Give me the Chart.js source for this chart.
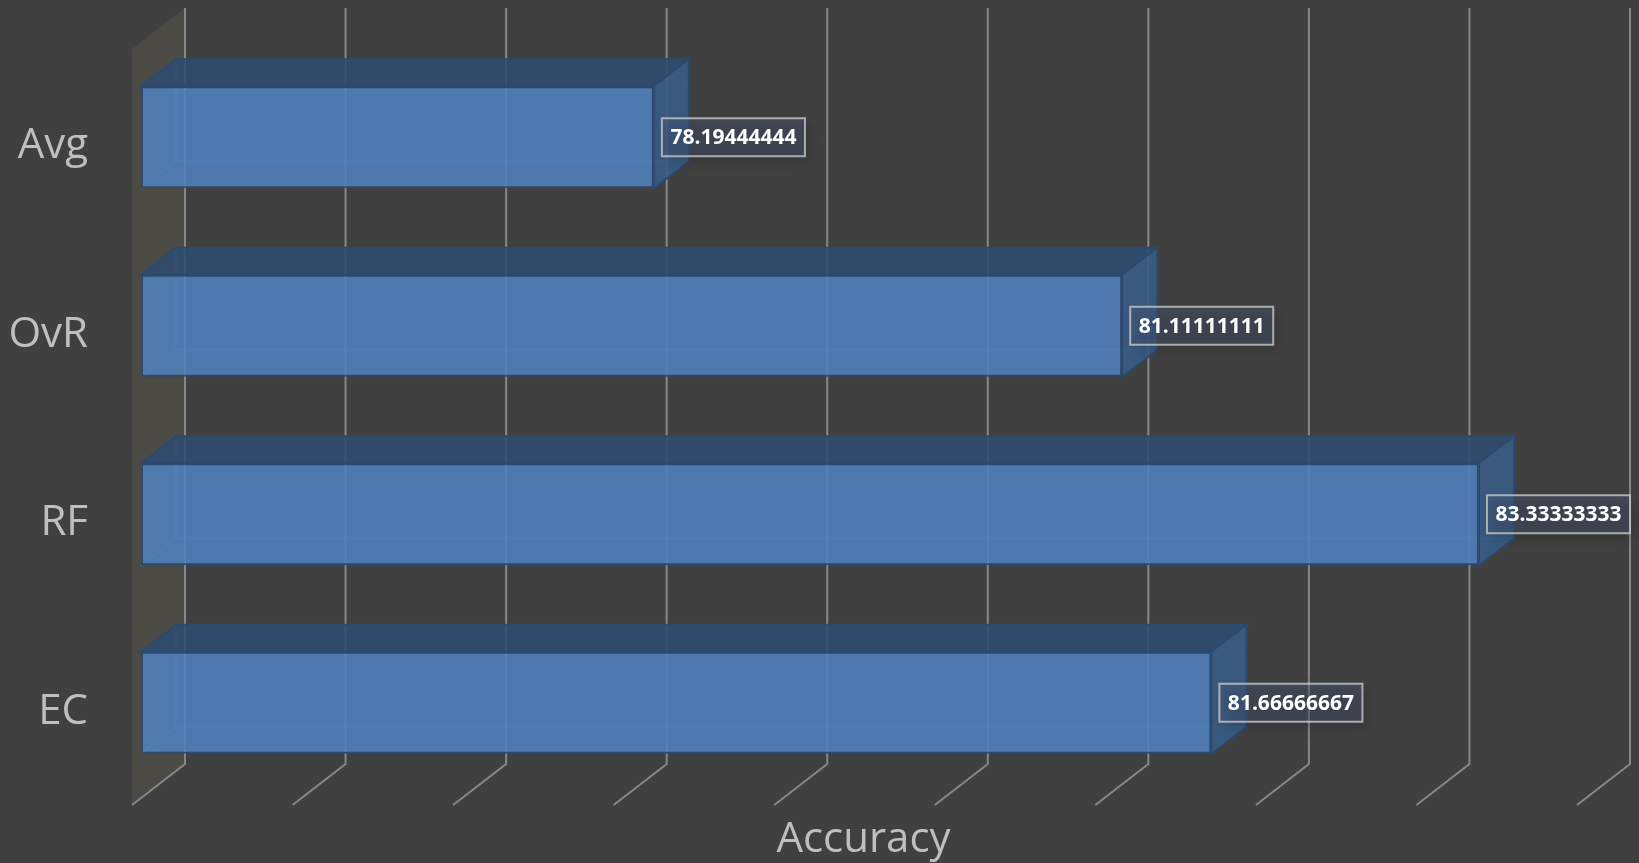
<!DOCTYPE html>
<html>
<head>
<meta charset="utf-8">
<title>Accuracy</title>
<script src="https://cdn.jsdelivr.net/npm/chart.js"></script>
<style>
  html, body { margin: 0; padding: 0; background: #404040; overflow: hidden; }
  #wrap { width: 1639px; height: 863px; }
</style>
</head>
<body>
<div id="wrap"><canvas id="myChart"></canvas></div>
<script>
  // data
  const categories = ['Avg', 'OvR', 'RF', 'EC'];
  const accuracy = [78.19444444, 81.11111111, 83.33333333, 81.66666667];
  const valueLabels = ['78.19444444', '81.11111111', '83.33333333', '81.66666667'];
  const axisTicks = [75, 76, 77, 78, 79, 80, 81, 82, 83, 84];

  // 3d look: depth of the bar, and where front / back planes sit relative to the bar front
  const BAR_DX = 35, BAR_DY = -27;
  const FRONT_DX = -9, FRONT_DY = 7;
  const BACK_DX = 44, BACK_DY = -34;

  function poly(ctx, pts) {
    ctx.beginPath();
    ctx.moveTo(pts[0][0], pts[0][1]);
    for (let i = 1; i < pts.length; i++) ctx.lineTo(pts[i][0], pts[i][1]);
    ctx.closePath();
  }

  const threeD = {
    id: 'threeD',
    beforeDatasetsDraw(chart) {
      const { ctx, chartArea } = chart;
      const xs = chart.scales.x;
      const backBottom = chartArea.bottom - 33;
      const backTop = 8;
      const frontBottom = backBottom - BACK_DY + FRONT_DY;
      ctx.save();

      // side wall
      const x0 = xs.getPixelForValue(axisTicks[0]);
      ctx.fillStyle = '#4c4a44';
      poly(ctx, [
        [x0 + FRONT_DX, frontBottom],
        [x0 + FRONT_DX, backTop - BACK_DY + FRONT_DY],
        [x0 + BACK_DX, backTop],
        [x0 + BACK_DX, backBottom]
      ]);
      ctx.fill();

      // gridlines: back wall verticals + floor diagonals
      ctx.strokeStyle = '#878787';
      ctx.lineWidth = 2;
      axisTicks.forEach(v => {
        const px = xs.getPixelForValue(v);
        ctx.beginPath();
        ctx.moveTo(px + BACK_DX, backTop);
        ctx.lineTo(px + BACK_DX, backBottom);
        ctx.lineTo(px + FRONT_DX, frontBottom);
        ctx.stroke();
      });

      // hidden and side faces of each bar
      const meta = chart.getDatasetMeta(0);
      meta.data.forEach(el => {
        const p = el.getProps(['x', 'y', 'base', 'height'], true);
        const left = p.base, right = p.x;
        const top = p.y - p.height / 2, bot = p.y + p.height / 2;

        // faint back edges
        ctx.strokeStyle = 'rgba(90,140,200,0.6)';
        ctx.lineWidth = 1.5;
        ctx.beginPath();
        ctx.moveTo(left, bot);
        ctx.lineTo(left + BAR_DX, bot + BAR_DY);
        ctx.lineTo(right + BAR_DX, bot + BAR_DY);
        ctx.moveTo(left + BAR_DX, bot + BAR_DY);
        ctx.lineTo(left + BAR_DX, top + BAR_DY);
        ctx.stroke();

        ctx.strokeStyle = '#2c4a70';
        ctx.lineWidth = 2;
        // top face
        ctx.fillStyle = 'rgba(46,76,112,0.88)';
        poly(ctx, [[left, top], [left + BAR_DX, top + BAR_DY], [right + BAR_DX, top + BAR_DY], [right, top]]);
        ctx.fill();
        ctx.stroke();
        // right face
        ctx.fillStyle = 'rgba(58,92,134,0.9)';
        poly(ctx, [[right, top], [right + BAR_DX, top + BAR_DY], [right + BAR_DX, bot + BAR_DY], [right, bot]]);
        ctx.fill();
        ctx.stroke();
      });
      ctx.restore();
    },
    afterDatasetsDraw(chart) {
      const { ctx } = chart;
      const meta = chart.getDatasetMeta(0);
      ctx.save();
      ctx.font = 'bold 21px "Open Sans"';
      meta.data.forEach((el, i) => {
        const p = el.getProps(['x', 'y'], true);
        const text = valueLabels[i];
        const w = ctx.measureText(text).width + 17;
        const h = 38;
        const bx = p.x + 8, by = p.y - h / 2;
        ctx.save();
        ctx.shadowColor = 'rgba(0,0,0,0.45)';
        ctx.shadowBlur = 12;
        ctx.shadowOffsetX = 4;
        ctx.shadowOffsetY = 5;
        ctx.fillStyle = 'rgba(70,90,120,0.38)';
        ctx.fillRect(bx, by, w, h);
        ctx.restore();
        ctx.strokeStyle = 'rgba(200,200,200,0.8)';
        ctx.lineWidth = 2;
        ctx.strokeRect(bx, by, w, h);
        ctx.fillStyle = '#ffffff';
        ctx.textAlign = 'center';
        ctx.textBaseline = 'middle';
        ctx.fillText(text, bx + w / 2, p.y + 1);
      });
      ctx.restore();
    }
  };

  const ctx = document.getElementById('myChart').getContext('2d');
  new Chart(ctx, {
    type: 'bar',
    data: {
      labels: categories,
      datasets: [{
        label: 'Accuracy',
        data: accuracy,
        base: axisTicks[0],
        backgroundColor: 'rgba(79,129,189,0.88)',
        borderColor: '#2c4a70',
        borderWidth: 2,
        borderSkipped: false,
        categoryPercentage: 1,
        barPercentage: 0.541
      }]
    },
    options: {
      indexAxis: 'y',
      responsive: true,
      maintainAspectRatio: false,
      animation: false,
      layout: { padding: { top: 43, right: 53, left: 0, bottom: 0 } },
      plugins: {
        legend: { display: false },
        tooltip: { enabled: false }
      },
      scales: {
        x: {
          min: 75,
          max: 84,
          ticks: { display: false, stepSize: 1 },
          grid: { display: false },
          border: { display: false },
          title: {
            display: true,
            text: 'Accuracy',
            color: '#bfbfbf',
            font: { family: 'Open Sans', size: 42 },
            padding: { top: 0, bottom: -2 }
          },
          afterFit(s) { s.height = 66; }
        },
        y: {
          ticks: { color: '#bfbfbf', font: { family: 'Open Sans', size: 42 }, padding: 0, labelOffset: 9 },
          grid: { display: false, drawTicks: true, tickLength: 53 },
          border: { display: false },
          afterFit(s) { s.width = 141; }
        }
      }
    },
    plugins: [threeD]
  });
</script>
</body>
</html>
